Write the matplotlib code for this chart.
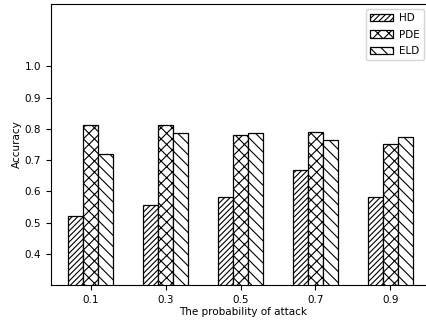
import matplotlib
matplotlib.use("Agg")
import matplotlib.pyplot as plt
import numpy as np

categories = ["0.1", "0.3", "0.5", "0.7", "0.9"]
hd = [0.52, 0.557, 0.581, 0.668, 0.581]
pde = [0.811, 0.811, 0.781, 0.791, 0.751]
eld = [0.721, 0.786, 0.786, 0.764, 0.775]

plt.rcParams["hatch.linewidth"] = 0.8
fig = plt.figure(figsize=(4.27, 3.22), dpi=100)
ax = fig.add_axes([0.1194, 0.115, 0.9, 0.8727])

x = np.arange(len(categories))
w = 0.2
ax.bar(x - w, hd, w, color="white", edgecolor="black", hatch="//////", label="HD", linewidth=0.9)
ax.bar(x, pde, w, color="white", edgecolor="black", hatch="xxx", label="PDE", linewidth=0.9)
ax.bar(x + w, eld, w, color="white", edgecolor="black", hatch="\\\\\\", label="ELD", linewidth=0.9)

ax.set_xticks(x)
ax.set_xticklabels(categories, fontsize=7.5)
ax.set_yticks([0.4, 0.5, 0.6, 0.7, 0.8, 0.9, 1.0])
ax.tick_params(axis="y", labelsize=7.5)
ax.set_ylim(0.3, 1.2)
ax.set_xlim(-0.533, 4.6)
ax.set_xlabel("The probability of attack", fontsize=7.5, labelpad=2)
ax.set_ylabel("Accuracy", fontsize=7.5, labelpad=2)
ax.legend(loc="upper right", fontsize=7.5, bbox_to_anchor=(0.985, 1.0),
          handlelength=2.2, handletextpad=0.6, labelspacing=0.6)

fig.savefig("out.png", dpi=100)
